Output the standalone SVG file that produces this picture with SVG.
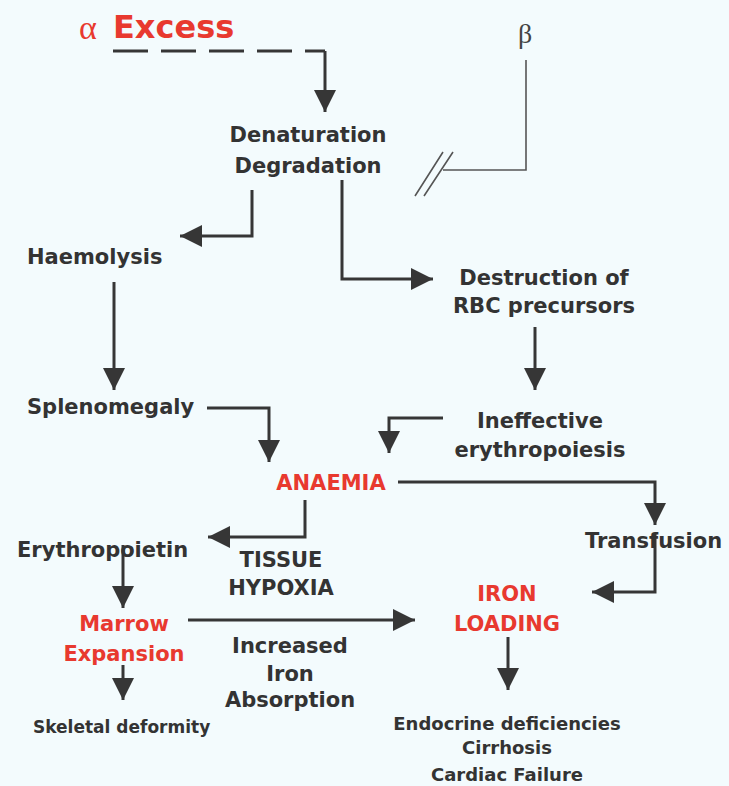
<svg xmlns="http://www.w3.org/2000/svg" width="729" height="786" viewBox="0 0 729 786">
<style>
.t{font-family:"DejaVu Sans",Verdana,sans-serif;font-weight:bold;font-size:21px;fill:#333}
.r{fill:#e8392f}
.s{font-size:18px}
.xs{font-size:17px}
.m{text-anchor:middle}
.c{fill:none;stroke:#363636;stroke-width:3}
.b{fill:none;stroke:#555;stroke-width:1.6}
</style>
<defs>
<marker id="ah" markerUnits="userSpaceOnUse" markerWidth="22" markerHeight="22" refX="20" refY="10" orient="auto" viewBox="0 0 20 20">
<path d="M0,0 L20,10 L0,20 z" fill="#363636"/>
</marker>
</defs>
<rect width="729" height="786" fill="#f3fbfd"/>
<g id="connectors">
<path class="c" d="M113,51 H325" stroke-dasharray="35,13"/>
<path class="c" d="M325,51 V112" marker-end="url(#ah)"/>
<path class="c" d="M252,190 V236 H180" marker-end="url(#ah)"/>
<path class="c" d="M342,180 V279 H433" marker-end="url(#ah)"/>
<path class="c" d="M114,282 V390" marker-end="url(#ah)"/>
<path class="c" d="M207,408 H269 V462" marker-end="url(#ah)"/>
<path class="c" d="M535,327 V390" marker-end="url(#ah)"/>
<path class="c" d="M443,418 H389 V453" marker-end="url(#ah)"/>
<path class="c" d="M398,482 H655 V525" marker-end="url(#ah)"/>
<path class="c" d="M655,533 V592 H592" marker-end="url(#ah)"/>
<path class="c" d="M305,500 V537 H208" marker-end="url(#ah)"/>
<path class="c" d="M123,545 V608" marker-end="url(#ah)"/>
<path class="c" d="M188,620 H415" marker-end="url(#ah)"/>
<path class="c" d="M123,665 V700" marker-end="url(#ah)"/>
<path class="c" d="M508,637 V690" marker-end="url(#ah)"/>
<path class="b" d="M526,60 V170 H443"/>
<path class="b" d="M415,196 L443,152 M424,196 L453,152"/>
</g>
<g id="alpha-excess">
<text x="79" y="39" font-family="Liberation Serif,serif" font-size="34" fill="#e8392f">α</text>
<text class="t r" x="113" y="38" style="font-size:32px">Excess</text>
</g>
<g id="beta"><text x="518" y="43" font-family="Liberation Serif,serif" font-size="28" fill="#444">β</text></g>
<g id="denaturation"><text class="t m" x="308" y="142">Denaturation</text><text class="t m" x="308" y="173">Degradation</text></g>
<g id="haemolysis"><text class="t" x="27" y="264">Haemolysis</text></g>
<g id="splenomegaly"><text class="t" x="27" y="414">Splenomegaly</text></g>
<g id="destruction"><text class="t m" x="544" y="285">Destruction of</text><text class="t m" x="544" y="313">RBC precursors</text></g>
<g id="ineffective"><text class="t m" x="540" y="428">Ineffective</text><text class="t m" x="540" y="457">erythropoiesis</text></g>
<g id="anaemia"><text class="t r m" x="331" y="490">ANAEMIA</text></g>
<g id="transfusion"><text class="t" x="585" y="548">Transfusion</text></g>
<g id="erythropoietin"><text class="t" x="17" y="557">Erythropoietin</text></g>
<g id="hypoxia"><text class="t m" x="281" y="567">TISSUE</text><text class="t m" x="281" y="595">HYPOXIA</text></g>
<g id="marrow"><text class="t r m" x="124" y="631">Marrow</text><text class="t r m" x="124" y="661">Expansion</text></g>
<g id="absorption"><text class="t m" x="290" y="653">Increased</text><text class="t m" x="290" y="681">Iron</text><text class="t m" x="290" y="707">Absorption</text></g>
<g id="iron-loading"><text class="t r m" x="507" y="601">IRON</text><text class="t r m" x="507" y="631">LOADING</text></g>
<g id="skeletal"><text class="t xs" x="33" y="733">Skeletal deformity</text></g>
<g id="complications"><text class="t s m" x="507" y="730">Endocrine deficiencies</text><text class="t s m" x="507" y="754">Cirrhosis</text><text class="t s m" x="507" y="781">Cardiac Failure</text></g>
</svg>
